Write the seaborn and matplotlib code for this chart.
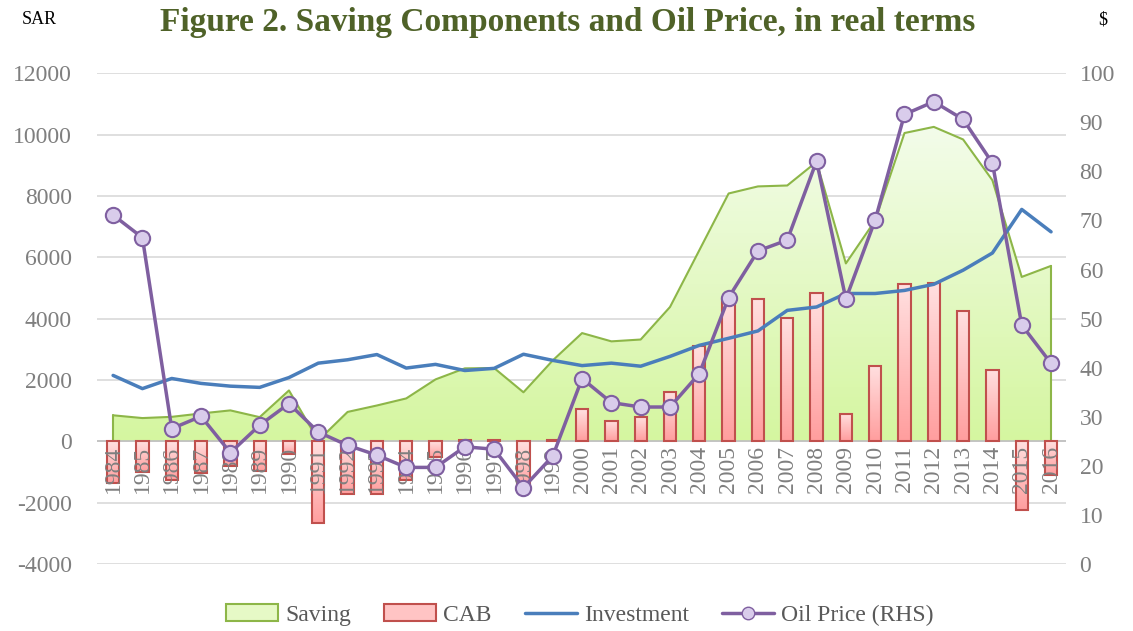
import numpy as np
import seaborn as sns
import matplotlib
matplotlib.use('Agg')
from matplotlib import pyplot as plt
from matplotlib.patches import Patch
from matplotlib.lines import Line2D
from matplotlib.colors import LinearSegmentedColormap

years = [str(y) for y in range(1984, 2017)]

saving = [850, 760, 800, 910, 1010, 790, 1660, 30, 960, 1170, 1400, 2020, 2380, 2390, 1600,
          2640, 3530, 3260, 3320, 4380, 6230, 8080, 8310, 8340, 9110, 5800, 7200, 10050,
          10250, 9840, 8510, 5360, 5720]
cab = [-1360, -1000, -1270, -1020, -815, -970, -420, -2660, -1700, -1700, -1250, -510, 50,
       30, -1600, 30, 1040, 680, 810, 1610, 3100, 4650, 4650, 4020, 4850, 880, 2470, 5120,
       5150, 4250, 2340, -2250, -1110]
investment = [2150, 1720, 2050, 1890, 1800, 1760, 2080, 2550, 2660, 2830, 2390, 2510, 2310,
              2380, 2840, 2640, 2470, 2550, 2450, 2770, 3130, 3360, 3600, 4270, 4380, 4820,
              4820, 4920, 5120, 5580, 6140, 7560, 6830]
oil_price = [71.1, 66.5, 27.6, 30.1, 22.7, 28.3, 32.7, 26.9, 24.2, 22.2, 19.7, 19.7, 23.9,
             23.4, 15.6, 22.0, 37.8, 32.9, 32.0, 32.0, 38.8, 54.3, 63.8, 66.0, 82.1, 54.0,
             70.1, 91.6, 94.2, 90.6, 81.7, 48.7, 40.9]

sns.set_style("white")
plt.rcParams['font.family'] = ['Liberation Serif', 'DejaVu Serif']
plt.rcParams['axes.unicode_minus'] = False

GREY = '#7F7F7F'
green_cm = LinearSegmentedColormap.from_list('g', ['#D5F6A0', '#F3FCEA'])
red_cm = LinearSegmentedColormap.from_list('r', ['#FF9E9E', '#FFE0E0'])
grad = np.linspace(0, 1, 100).reshape(-1, 1)

fig = plt.figure(figsize=(11.33, 6.31), dpi=100)
ax = fig.add_axes([0.0856, 0.106, 0.855, 0.778])
x = np.arange(len(years))

# saving area, gradient fill clipped to the polygon
poly = ax.fill_between(x, 0, saving, color='none', zorder=1)
im = ax.imshow(grad, cmap=green_cm, origin='lower', aspect='auto',
               extent=[-0.5, 32.5, 0, max(saving)], zorder=1)
im.set_clip_path(poly.get_paths()[0], transform=ax.transData)
ax.plot(x, saving, color='#8DB648', lw=1.5, zorder=2)
ax.plot([0, 0], [0, saving[0]], color='#8DB648', lw=1.5, zorder=2)
ax.plot([32, 32], [0, saving[-1]], color='#8DB648', lw=1.5, zorder=2)

# CAB bars
sns.barplot(x=x, y=cab, ax=ax, native_scale=True, width=0.42, color='#FFC4C4',
            edgecolor='#C0504D', linewidth=1.5, saturation=1, zorder=3)
for bar in ax.patches:
    x0, w = bar.get_x(), bar.get_width()
    y0, h = bar.get_y(), bar.get_height()
    lo, hi = min(y0, y0 + h), max(y0, y0 + h)
    bim = ax.imshow(grad, cmap=red_cm, origin='lower', aspect='auto',
                    extent=[x0, x0 + w, lo, hi], zorder=2.9)
    bim.set_clip_path(bar)
    bar.set_facecolor('none')

# year labels sitting under the zero line
for i, yr in enumerate(years):
    ax.text(i, -150, yr, rotation=90, ha='center', va='top', color=GREY,
            fontsize=17, zorder=4)

sns.lineplot(x=x, y=investment, ax=ax, color='#4A7EBB', lw=2.5, zorder=5)

ax.set_xlim(-0.55, 32.5)
ax.set_ylim(-4000, 12000)
ax.set_yticks(range(-4000, 12001, 2000))
ax.set_xticks([])
ax.grid(axis='y', color='#D9D9D9', lw=1.2)
ax.set_axisbelow(True)
ax.axhline(0, color='#BFBFBF', lw=1.2, zorder=2.5)
for s in ax.spines.values():
    s.set_visible(False)
ax.tick_params(axis='y', length=0, labelsize=17, labelcolor=GREY, pad=18)

ax2 = ax.twinx()
sns.lineplot(x=x, y=oil_price, ax=ax2, color='#7F5FA0', lw=2.5, marker='o',
             markersize=11, markerfacecolor='#D9CCEB', markeredgecolor='#7F5FA0',
             markeredgewidth=1.5, zorder=6)
ax2.set_ylim(0, 100)
ax2.set_yticks(range(0, 101, 10))
for s in ax2.spines.values():
    s.set_visible(False)
ax2.tick_params(axis='y', length=0, labelsize=17, labelcolor=GREY, pad=10)
ax2.grid(False)

fig.text(568 / 1133, 1 - 22 / 631, 'Figure 2. Saving Components and Oil Price, in real terms',
         ha='center', va='center', fontsize=24, fontweight='bold', color='#4F6228')
fig.text(22 / 1133, 1 - 20 / 631, 'SAR', ha='left', va='center', fontsize=13, color='black')
fig.text(1103 / 1133, 1 - 20 / 631, '$', ha='center', va='center', fontsize=13, color='black')

handles = [
    Patch(facecolor='#E6F9C6', edgecolor='#8DB648', lw=1.5),
    Patch(facecolor='#FFC4C4', edgecolor='#C0504D', lw=1.5),
    Line2D([], [], color='#4A7EBB', lw=2.5),
    Line2D([], [], color='#7F5FA0', lw=2.5, marker='o', markersize=9,
           markerfacecolor='#D9CCEB', markeredgecolor='#7F5FA0'),
]
labels = ['Saving', 'CAB', 'Investment', 'Oil Price (RHS)']
fig.legend(handles, labels, loc='center', bbox_to_anchor=(580 / 1133, 1 - 615 / 631),
           ncol=4, frameon=False, fontsize=17, labelcolor='#595959', handlelength=2.2,
           handletextpad=0.3, columnspacing=1.4)

fig.savefig('out.png', dpi=100)
